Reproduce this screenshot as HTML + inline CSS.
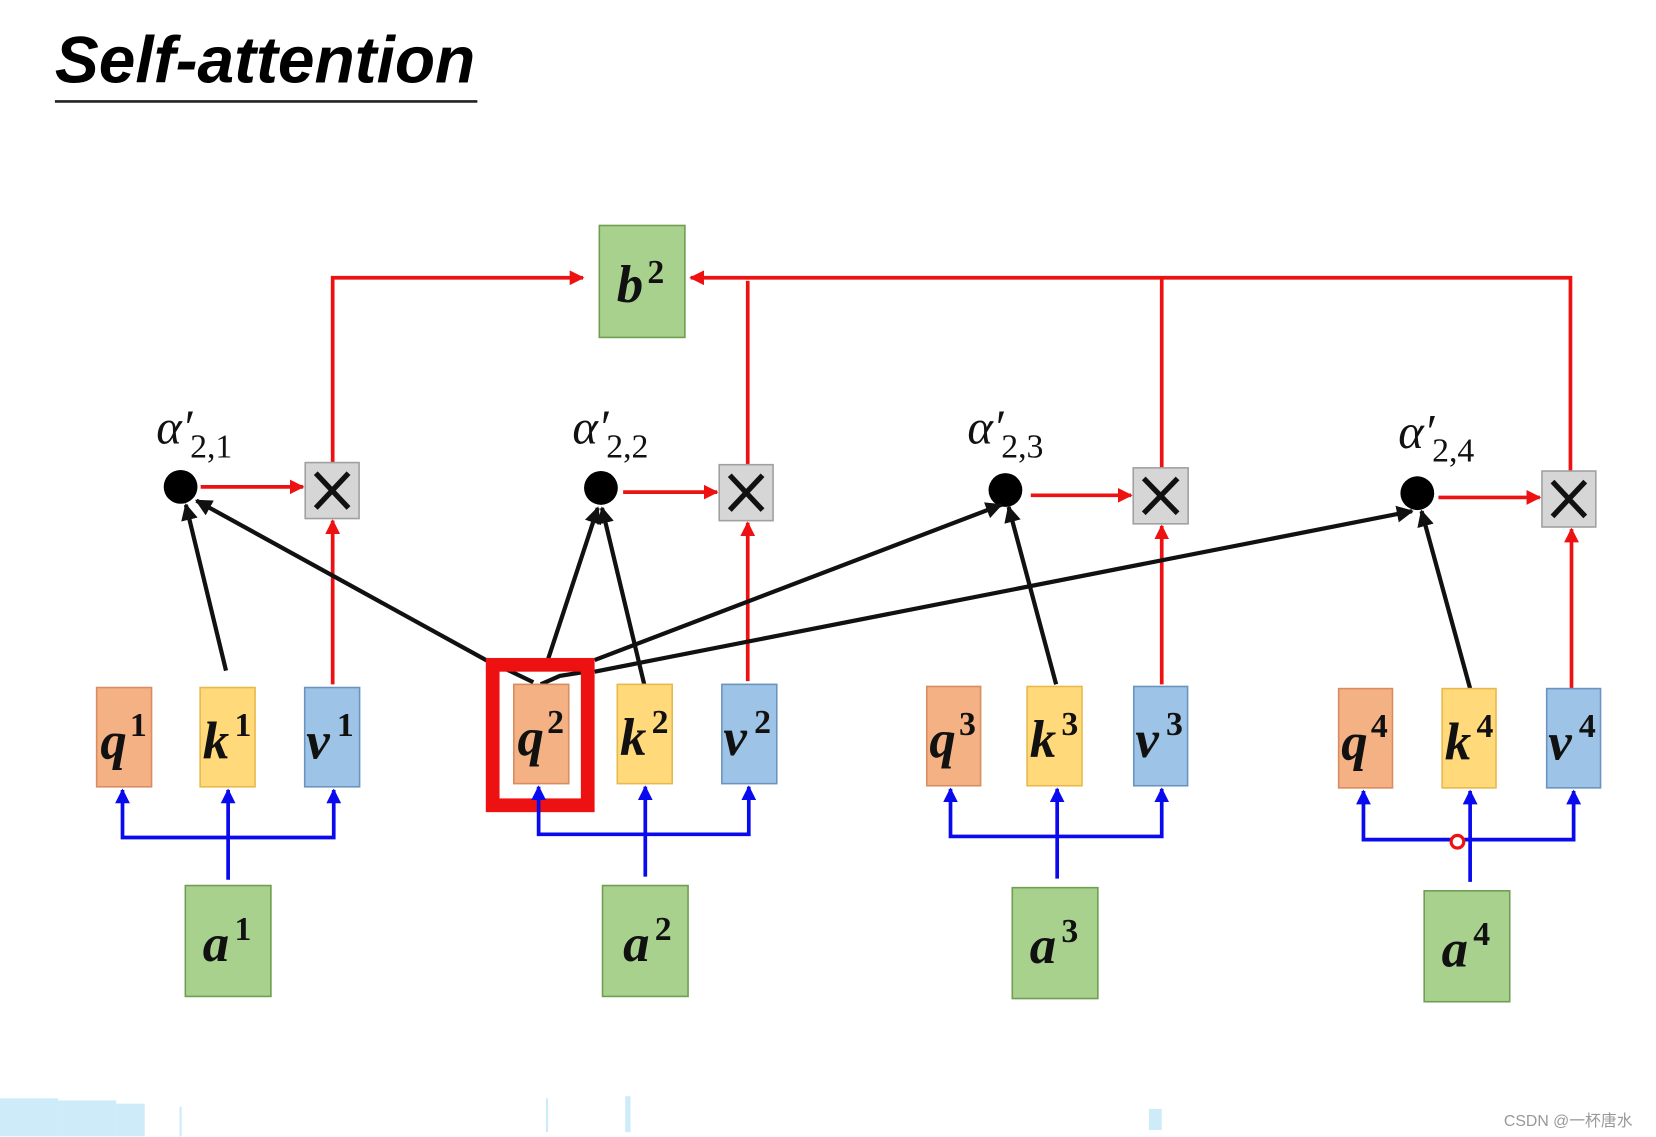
<!DOCTYPE html>
<html><head><meta charset="utf-8"><style>
html,body{margin:0;padding:0;background:#fff;}
svg{display:block;}
.lbl{font-family:"Liberation Serif",serif;font-weight:bold;font-style:italic;font-size:50px;fill:#111;}
.sup{font-family:"Liberation Serif",serif;font-weight:bold;font-size:32px;fill:#111;}
.al{font-family:"Liberation Serif",serif;font-style:italic;font-size:46px;fill:#111;}
.sub{font-family:"Liberation Serif",serif;font-size:32px;fill:#111;}
</style></head><body>
<svg width="1656" height="1137" viewBox="0 0 1568 1076.6" preserveAspectRatio="none" xmlns="http://www.w3.org/2000/svg">
<defs>
<marker id="ar" viewBox="0 0 10 10" refX="9" refY="5" markerWidth="4" markerHeight="4" orient="auto" markerUnits="strokeWidth"><path d="M0,0 L10,5 L0,10 z" fill="#ee1111"/></marker>
<marker id="ab" viewBox="0 0 10 10" refX="9" refY="5" markerWidth="4" markerHeight="4" orient="auto" markerUnits="strokeWidth"><path d="M0,0 L10,5 L0,10 z" fill="#0a0aee"/></marker>
<marker id="ak" viewBox="0 0 10 10" refX="9" refY="5" markerWidth="4" markerHeight="4" orient="auto" markerUnits="strokeWidth"><path d="M0,0 L10,5 L0,10 z" fill="#111"/></marker>
</defs>
<!-- title -->
<text x="52" y="78" font-family="Liberation Sans, sans-serif" font-weight="bold" font-style="italic" font-size="62" textLength="398" lengthAdjust="spacingAndGlyphs" fill="#000">Self-attention</text>
<line x1="52" y1="96" x2="452" y2="96" stroke="#222" stroke-width="2.5"/>

<!-- red top lines -->
<g stroke="#ee1111" stroke-width="3.5" fill="none">
<polyline points="315,438 315,263 552,263" marker-end="url(#ar)"/>
<polyline points="1487,446 1487,263 654,263" marker-end="url(#ar)"/>
<line x1="708" y1="440" x2="708" y2="266"/>
<line x1="1100" y1="443" x2="1100" y2="263"/>
<line x1="190" y1="461" x2="287" y2="461" marker-end="url(#ar)"/>
<line x1="590" y1="466" x2="679" y2="466" marker-end="url(#ar)"/>
<line x1="976" y1="469" x2="1071" y2="469" marker-end="url(#ar)"/>
<line x1="1362" y1="471" x2="1458" y2="471" marker-end="url(#ar)"/>
<line x1="315" y1="648" x2="315" y2="493" marker-end="url(#ar)"/>
<line x1="708" y1="645" x2="708" y2="495" marker-end="url(#ar)"/>
<line x1="1100" y1="648" x2="1100" y2="498" marker-end="url(#ar)"/>
<line x1="1488" y1="652" x2="1488" y2="501" marker-end="url(#ar)"/>
</g>

<!-- b2 -->
<rect x="567.5" y="213.5" width="81" height="106" fill="#a9d18e" stroke="#6f9e50" stroke-width="1.5"/>
<text x="584" y="286" class="lbl">b</text><text x="613" y="268" class="sup">2</text>

<!-- X boxes -->
<g fill="#d6d6d6" stroke="#a0a0a0" stroke-width="1.5">
<rect x="289" y="438" width="51" height="53"/>
<rect x="681" y="440" width="51" height="53"/>
<rect x="1073" y="443" width="52" height="53"/>
<rect x="1460" y="446" width="51" height="53"/>
</g>
<g stroke="#111" stroke-width="5">
<path d="M299,448 L330,481 M330,448 L299,481"/>
<path d="M691,450 L722,483 M722,450 L691,483"/>
<path d="M1083,453 L1115,486 M1115,453 L1083,486"/>
<path d="M1470,456 L1501,489 M1501,456 L1470,489"/>
</g>

<!-- dots -->
<g fill="#000">
<circle cx="171" cy="461" r="16"/>
<circle cx="569" cy="462" r="16"/>
<circle cx="952" cy="464" r="16"/>
<circle cx="1342" cy="467" r="16"/>
</g>

<!-- alpha labels -->
<text x="148" y="420" class="al">α′</text><text x="180" y="433" class="sub">2,1</text>
<text x="542" y="420" class="al">α′</text><text x="574" y="433" class="sub">2,2</text>
<text x="916" y="420" class="al">α′</text><text x="948" y="433" class="sub">2,3</text>
<text x="1324" y="424" class="al">α′</text><text x="1356" y="437" class="sub">2,4</text>

<!-- black arrows -->
<g stroke="#111" stroke-width="4" fill="none">
<line x1="214" y1="635" x2="176" y2="478" marker-end="url(#ak)"/>
<line x1="462" y1="626" x2="186" y2="474" marker-end="url(#ak)"/>
<line x1="519" y1="624" x2="566" y2="481" marker-end="url(#ak)"/>
<line x1="610" y1="648" x2="570" y2="481" marker-end="url(#ak)"/>
<line x1="563" y1="625" x2="948" y2="478" marker-end="url(#ak)"/>
<line x1="563" y1="636" x2="1337" y2="484" marker-end="url(#ak)"/>
<line x1="1000" y1="648" x2="955" y2="480" marker-end="url(#ak)"/>
<line x1="1392" y1="652" x2="1346" y2="484" marker-end="url(#ak)"/>
<path d="M480,634 L505,646 M512,648 L530,640 L555,636"/>
</g>

<!-- q k v boxes -->
<g stroke-width="1.5">
<rect x="91.5" y="651" width="52" height="94" fill="#f4b183" stroke="#d98c5f"/>
<rect x="189.5" y="651" width="52" height="94" fill="#ffd97a" stroke="#e8b84a"/>
<rect x="288.5" y="651" width="52" height="94" fill="#9dc3e6" stroke="#6a94c0"/>
<rect x="486.5" y="648" width="52" height="94" fill="#f4b183" stroke="#d98c5f"/>
<rect x="584.5" y="648" width="52" height="94" fill="#ffd97a" stroke="#e8b84a"/>
<rect x="683.5" y="648" width="52" height="94" fill="#9dc3e6" stroke="#6a94c0"/>
<rect x="877.5" y="650" width="51" height="94" fill="#f4b183" stroke="#d98c5f"/>
<rect x="972.5" y="650" width="52" height="94" fill="#ffd97a" stroke="#e8b84a"/>
<rect x="1073.5" y="650" width="51" height="94" fill="#9dc3e6" stroke="#6a94c0"/>
<rect x="1267.5" y="652" width="51" height="94" fill="#f4b183" stroke="#d98c5f"/>
<rect x="1365.5" y="652" width="51" height="94" fill="#ffd97a" stroke="#e8b84a"/>
<rect x="1464.5" y="652" width="51" height="94" fill="#9dc3e6" stroke="#6a94c0"/>
</g>
<g>
<text x="95" y="718" class="lbl">q</text><text x="123" y="697" class="sup">1</text>
<text x="192" y="718" class="lbl">k</text><text x="222" y="697" class="sup">1</text>
<text x="290" y="718" class="lbl">v</text><text x="319" y="697" class="sup">1</text>
<text x="490" y="715" class="lbl">q</text><text x="518" y="694" class="sup">2</text>
<text x="587" y="715" class="lbl">k</text><text x="617" y="694" class="sup">2</text>
<text x="685" y="715" class="lbl">v</text><text x="714" y="694" class="sup">2</text>
<text x="880" y="717" class="lbl">q</text><text x="908" y="696" class="sup">3</text>
<text x="975" y="717" class="lbl">k</text><text x="1005" y="696" class="sup">3</text>
<text x="1075" y="717" class="lbl">v</text><text x="1104" y="696" class="sup">3</text>
<text x="1270" y="719" class="lbl">q</text><text x="1298" y="698" class="sup">4</text>
<text x="1368" y="719" class="lbl">k</text><text x="1398" y="698" class="sup">4</text>
<text x="1466" y="719" class="lbl">v</text><text x="1495" y="698" class="sup">4</text>
</g>

<!-- red highlight -->
<rect x="466.5" y="629.5" width="90" height="133" fill="none" stroke="#ee1111" stroke-width="13"/>

<!-- blue -->
<g stroke="#0a0aee" stroke-width="3.5" fill="none">
<polyline points="216,833 216,793 116,793 116,748" marker-end="url(#ab)"/>
<polyline points="216,793 316,793 316,748" marker-end="url(#ab)"/>
<line x1="216" y1="793" x2="216" y2="748" marker-end="url(#ab)"/>
<polyline points="611,830 611,790 510,790 510,745" marker-end="url(#ab)"/>
<polyline points="611,790 709,790 709,745" marker-end="url(#ab)"/>
<line x1="611" y1="790" x2="611" y2="745" marker-end="url(#ab)"/>
<polyline points="1001,832 1001,792 900,792 900,747" marker-end="url(#ab)"/>
<polyline points="1001,792 1100,792 1100,747" marker-end="url(#ab)"/>
<line x1="1001" y1="792" x2="1001" y2="747" marker-end="url(#ab)"/>
<polyline points="1392,835 1392,795 1291,795 1291,749" marker-end="url(#ab)"/>
<polyline points="1392,795 1490,795 1490,749" marker-end="url(#ab)"/>
<line x1="1392" y1="795" x2="1392" y2="749" marker-end="url(#ab)"/>
</g>
<circle cx="1380" cy="797" r="6" fill="#fff" stroke="#ee1111" stroke-width="3"/>

<!-- a boxes -->
<g fill="#a9d18e" stroke="#6f9e50" stroke-width="1.5">
<rect x="175.5" y="838.5" width="81" height="105"/>
<rect x="570.5" y="838.5" width="81" height="105"/>
<rect x="958.5" y="840.5" width="81" height="105"/>
<rect x="1348.5" y="843.5" width="81" height="105"/>
</g>
<text x="192" y="910" class="lbl">a</text><text x="222" y="890" class="sup">1</text>
<text x="590" y="910" class="lbl">a</text><text x="620" y="890" class="sup">2</text>
<text x="975" y="912" class="lbl">a</text><text x="1005" y="892" class="sup">3</text>
<text x="1365" y="915" class="lbl">a</text><text x="1395" y="895" class="sup">4</text>

<!-- bottom artifacts -->
<g fill="#cdebf8">
<rect x="0" y="1040" width="55" height="36"/>
<rect x="55" y="1042" width="55" height="34"/>
<rect x="110" y="1045" width="27" height="31"/>
<rect x="170" y="1048" width="2" height="28"/>
<rect x="517" y="1040" width="2" height="32"/>
<rect x="592" y="1038" width="5" height="34"/>
<rect x="1088" y="1050" width="12" height="20"/>
</g>
<text x="1424" y="1066" font-family="Liberation Sans, 'Noto Sans CJK SC', sans-serif" font-size="15" fill="#999">CSDN @一杯唐水</text>
</svg>
</body></html>
